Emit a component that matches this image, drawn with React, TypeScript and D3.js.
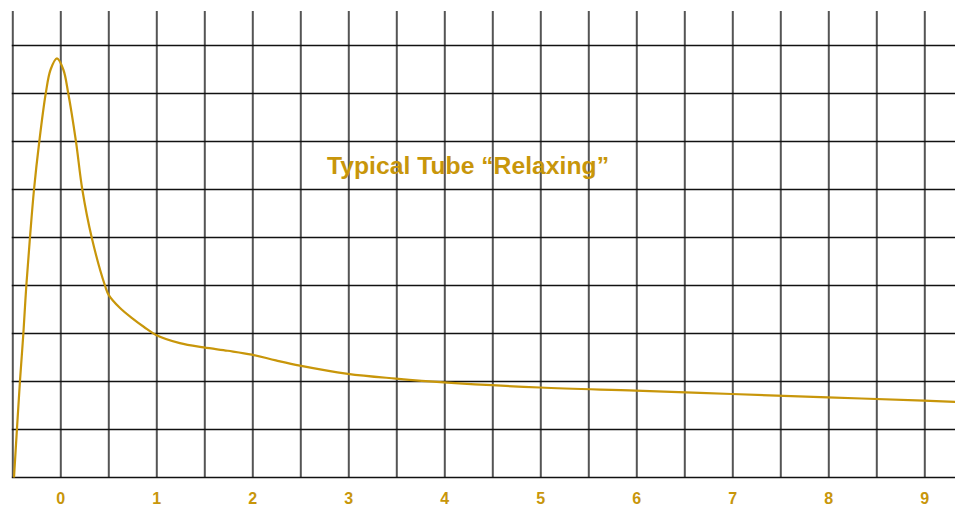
import React from "react";
import * as d3 from "d3";

const xTickLabels = ["0", "1", "2", "3", "4", "5", "6", "7", "8", "9"];
const xTickValues = [0, 1, 2, 3, 4, 5, 6, 7, 8, 9];
const verticalGrid = [-0.5, 0, 0.5, 1, 1.5, 2, 2.5, 3, 3.5, 4, 4.5, 5, 5.5, 6, 6.5, 7, 7.5, 8, 8.5, 9];
const horizontalGrid = [0, 1, 2, 3, 4, 5, 6, 7, 8, 9];
const title = "Typical Tube \u201CRelaxing\u201D";

const curveX = [
  -0.4875, -0.425, -0.39, -0.359, -0.321, -0.279, -0.224, -0.157, -0.106, -0.04,
  0.026, 0.078, 0.158, 0.224, 0.322, 0.46, 0.5, 0.617, 0.742, 0.867, 0.992,
  1.24, 1.49, 1.74, 1.99, 2.24, 2.49, 2.99, 3.49, 3.99, 4.99, 5.99, 6.99, 7.99, 8.99, 9.4,
];
const curveY = [
  0, 2.02, 3.0, 4.0, 5.0, 6.0, 7.0, 8.0, 8.5, 8.73,
  8.5, 8.0, 7.0, 6.0, 5.0, 4.0, 3.8, 3.53, 3.32, 3.135, 2.97,
  2.8, 2.71, 2.64, 2.56, 2.44, 2.33, 2.16, 2.06, 1.98, 1.875, 1.81, 1.74, 1.67, 1.6, 1.57,
];

const W = 955;
const H = 506;
const GOLD = "#c8960a";

export default function App() {
  const x = d3.scaleLinear().domain([0, 1]).range([60.8, 156.8]);
  const y = d3.scaleLinear().domain([0, 9]).range([477.5, 45.5]);
  const pts: [number, number][] = curveX.map((v, i) => [v, curveY[i]]);
  const line = d3
    .line<[number, number]>()
    .x((d) => x(d[0]))
    .y((d) => y(d[1]))
    .curve(d3.curveCatmullRom.alpha(0.5));

  return (
    <svg
      width={W}
      height={H}
      style={{ position: "absolute", left: 0, top: 0, background: "#fff" }}
    >
      <defs>
        <clipPath id="clip">
          <rect x={0} y={0} width={W} height={H} />
        </clipPath>
      </defs>
      {verticalGrid.map((v) => (
        <line
          key={"v" + v}
          x1={x(v)}
          x2={x(v)}
          y1={11}
          y2={y(0)}
          stroke="#555"
          strokeWidth={2}
        />
      ))}
      {horizontalGrid.map((v) => (
        <line
          key={"h" + v}
          x1={x(-0.5) - 1}
          x2={W}
          y1={y(v)}
          y2={y(v)}
          stroke="#111"
          strokeWidth={1.4}
        />
      ))}
      <path
        d={line(pts) || ""}
        fill="none"
        stroke={GOLD}
        strokeWidth={2.2}
        clipPath="url(#clip)"
      />
      <text
        x={327}
        y={173.5}
        fill={GOLD}
        fontFamily="'Liberation Sans', Arial, sans-serif"
        fontWeight="bold"
        fontSize={24}
        textLength={282}
        lengthAdjust="spacingAndGlyphs"
      >
        {title}
      </text>
      {xTickValues.map((v, i) => (
        <text
          key={"t" + v}
          x={x(v)}
          y={503.5}
          textAnchor="middle"
          fill={GOLD}
          fontFamily="'Liberation Sans', Arial, sans-serif"
          fontWeight="bold"
          fontSize={16}
        >
          {xTickLabels[i]}
        </text>
      ))}
    </svg>
  );
}
